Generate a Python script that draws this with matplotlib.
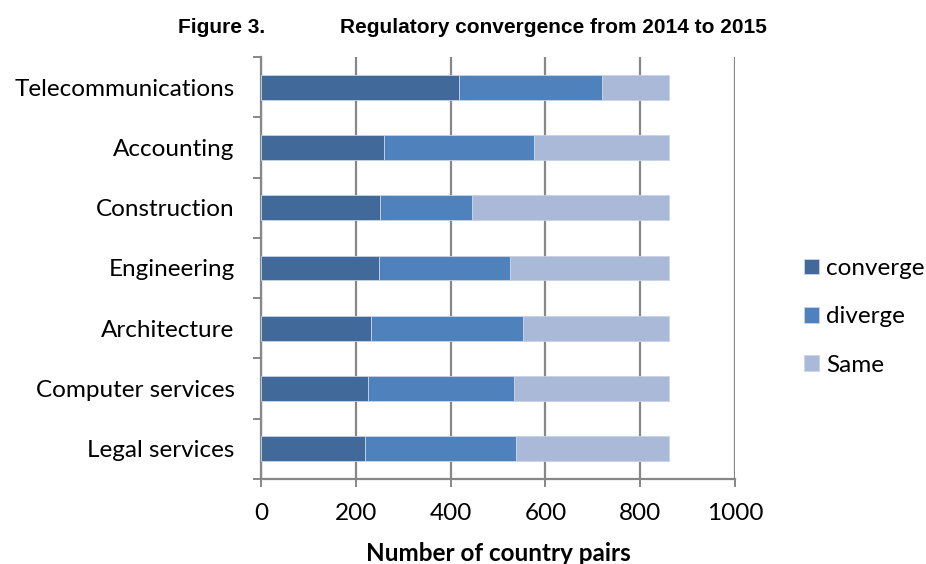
import matplotlib
matplotlib.use("Agg")
import matplotlib.pyplot as plt
import numpy as np

categories = ["Telecommunications", "Accounting", "Construction", "Engineering",
              "Architecture", "Computer services", "Legal services"]
converge = [417, 259, 250, 248, 233, 225, 219]
diverge = [303, 316, 196, 278, 319, 309, 319]
same = [140, 285, 414, 334, 308, 326, 322]
series_names = ["converge", "diverge", "Same"]
xticks = [0, 200, 400, 600, 800, 1000]

colors = ["#416A9B", "#4F81BD", "#AAB9D7"]
grid_c = "#878787"
FS = 17.5

fig = plt.figure(figsize=(9.26, 5.64), dpi=100)
ax = fig.add_axes([261/926, 1-479/564, (735-261)/926, (479-57)/564])

y = np.arange(len(categories))
left = np.zeros(len(categories))
handles = []
for vals, c, name in zip([converge, diverge, same], colors, series_names):
    h = ax.barh(y, vals, left=left, height=0.41, color=c, edgecolor="#C9D3E6",
                linewidth=0.6, label=name, zorder=3)
    handles.append(h)
    left = left + np.array(vals)

ax.set_xlim(0, 1000)
ax.set_ylim(len(categories) - 0.5, -0.5)
ax.set_xticks(xticks)
ax.set_xticklabels([str(t) for t in xticks], fontsize=FS, family="Lato")
ax.xaxis.grid(True, color=grid_c, linewidth=1.6, zorder=0)

ax.set_yticks(np.arange(-0.5, len(categories), 1.0))
ax.set_yticklabels([])
ax.set_yticks(y, minor=True)
ax.set_yticklabels(categories, minor=True, fontsize=FS, family="Lato")
ax.tick_params(axis="y", which="major", length=6, width=1.4, color=grid_c, direction="out")
ax.tick_params(axis="y", which="minor", length=0, pad=19)
ax.tick_params(axis="x", which="major", length=6, width=1.4, color=grid_c, direction="out", pad=11)

for s in ["top", "right"]:
    ax.spines[s].set_visible(False)
for s in ["left", "bottom"]:
    ax.spines[s].set_color(grid_c)
    ax.spines[s].set_linewidth(1.6)

ax.set_xlabel("Number of country pairs", fontsize=FS, family="Lato", fontweight="bold", labelpad=13)

fig.text(178/926, 1-33/564, "Figure 3.", fontsize=15, fontweight="bold",
         family="Liberation Sans", va="baseline", ha="left")
fig.text(340/926, 1-33/564, "Regulatory convergence from 2014 to 2015", fontsize=15,
         fontweight="bold", family="Liberation Sans", va="baseline", ha="left")

fig.legend(handles, series_names, loc="upper left", bbox_to_anchor=(804/926, 1-258/564),
           frameon=False, prop={"family": "Lato", "size": FS}, borderpad=0, borderaxespad=0,
           handlelength=0.62, handleheight=0.62, handletextpad=0.3, labelspacing=1.13)

fig.savefig("out.png", dpi=100)
